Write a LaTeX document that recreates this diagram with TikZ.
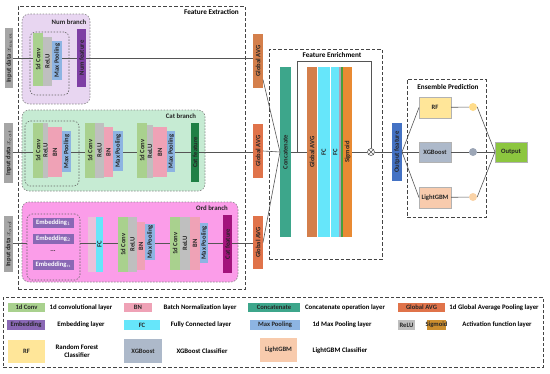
\documentclass[tikz,border=0pt]{standalone}
\usepackage{fontspec}
\setmainfont{Carlito}
\usetikzlibrary{fit}
\definecolor{cconv}{HTML}{A9D18E}
\definecolor{crelu}{HTML}{BFBFBF}
\definecolor{cbn}{HTML}{EFA2B6}
\definecolor{cmp}{HTML}{8DB4E2}
\definecolor{cnumf}{HTML}{7E3FA4}
\definecolor{ccatf}{HTML}{1F7F45}
\definecolor{cordf}{HTML}{A3137C}
\definecolor{cemb}{HTML}{8A68B5}
\definecolor{cfc}{HTML}{66E6FA}
\definecolor{ccon}{HTML}{3DA68B}
\definecolor{cgap}{HTML}{D47F4B}
\definecolor{cgapl}{HTML}{E0734A}
\definecolor{csig}{HTML}{E98A33}
\definecolor{csigl}{HTML}{CC8E2E}
\definecolor{coutf}{HTML}{4472C4}
\definecolor{crf}{HTML}{FFE699}
\definecolor{cxgb}{HTML}{ADB9CA}
\definecolor{clgb}{HTML}{F8CBAD}
\definecolor{cout}{HTML}{8CC63F}
\definecolor{cinp}{HTML}{A6A6A6}
\definecolor{cnumbg}{HTML}{E8D6F1}
\definecolor{ccatbg}{HTML}{C6EBD3}
\definecolor{cordbg}{HTML}{FB9DE9}
\definecolor{cline}{HTML}{555555}
\definecolor{cdash}{HTML}{444444}
\newcommand{\Lbar}[7]{%
  \node[barbox, fill=#2, fit={(#3,#4)(#5,#6)}] (#1) {};
  \node[bartext] at (#1.center) {#7};}
\newcommand{\Hbox}[7]{%
  \node[barbox, fill=#2, fit={(#3,#4)(#5,#6)}] (#1) {};
  \node[boxtext] at (#1.center) {#7};}
\begin{document}
\begin{tikzpicture}[x=1pt,y=-1pt,
  barbox/.style={inner sep=0pt, outer sep=0pt, draw=none, rectangle},
  bartext/.style={rotate=90, inner sep=0pt, font=\fontsize{6.6}{7}\selectfont\bfseries, text=black!85},
  boxtext/.style={inner sep=0pt, font=\fontsize{6.6}{7}\selectfont\bfseries, text=black!85},
  ttl/.style={inner sep=0pt, font=\fontsize{7.2}{8}\selectfont\bfseries},
  legtext/.style={inner sep=0pt, font=\fontsize{6.8}{8}\selectfont\bfseries, align=center},
  bigdash/.style={draw=cdash, line width=0.9pt, dash pattern=on 3.5pt off 2pt, inner sep=0pt},
  branchbox/.style={draw=black!45, line width=0.6pt, dash pattern=on 1.5pt off 1.5pt, rounded corners=7pt, inner sep=0pt},
  innerbox/.style={draw=black!60, line width=0.6pt, dash pattern=on 1.5pt off 1.5pt, rounded corners=5pt, inner sep=0pt},
  conn/.style={draw=cline, line width=0.6pt},
  dot/.style={circle, inner sep=0pt, minimum size=8pt}]
\useasboundingbox (0,0) rectangle (550,373);

% ---------- Feature Extraction ----------
\node[bigdash, fit={(18,6)(245,289)}] (fe) {};
\node[ttl, anchor=east] at (239,12) {Feature Extraction};

% Num branch
\node[branchbox, fill=cnumbg, fit={(22,14)(90,104)}] (numbr) {};
\node[boxtext, font=\fontsize{6.8}{7}\selectfont\bfseries] at (69,22) {Num branch};
\node[innerbox, fit={(30,32)(69,95)}] (numin) {};
\Lbar{inpnum}{cinp}{5}{28}{13}{88}{Input data $x_{num}$}
\Lbar{numconv}{cconv}{33}{33}{43}{86}{1d Conv}
\Lbar{numrelu}{crelu}{43}{37}{52}{86}{ReLU}
\Lbar{nummp}{cmp}{52}{41}{62}{80}{Max Pooling}
\Lbar{numfeat}{cnumf}{77}{29}{86}{87}{Num feature}
\coordinate (ynum) at (0,58);

% Cat branch
\node[branchbox, fill=ccatbg, fit={(22,110)(205,191)}] (catbr) {};
\node[boxtext, font=\fontsize{6.8}{7}\selectfont\bfseries] at (181,116) {Cat branch};
\node[innerbox, fit={(25,121)(79,186)}] (catin) {};
\Lbar{inpcat}{cinp}{4}{123}{13}{183}{Input data $x_{cat}$}
\Lbar{cconvA}{cconv}{33}{123}{43}{178}{1d Conv}
\Lbar{creluA}{crelu}{43}{123}{48}{178}{ReLU}
\Lbar{cbnA}{cbn}{48}{127}{62}{177}{BN}
\Lbar{cmpA}{cmp}{62}{131}{71}{172}{Max Pooling}
\Lbar{cconvB}{cconv}{85}{123}{95}{178}{1d Conv}
\Lbar{creluB}{crelu}{95}{123}{104}{178}{ReLU}
\Lbar{cbnB}{cbn}{104}{127}{113}{177}{BN}
\Lbar{cmpB}{cmp}{113}{131}{123}{171}{Max Pooling}
\Lbar{cconvC}{cconv}{137}{123}{147}{178}{1d Conv}
\Lbar{creluC}{crelu}{147}{125}{153}{178}{ReLU}
\Lbar{cbnC}{cbn}{153}{127}{167}{177}{BN}
\Lbar{cmpC}{cmp}{167}{131}{175}{172}{Max Pooling}
\Lbar{catfeat}{ccatf}{191}{123}{199}{182}{Cat feature}
\coordinate (ycat) at (0,152);

% Ord branch
\node[branchbox, fill=cordbg, fit={(22,202)(238,282)}] (ordbr) {};
\node[boxtext, font=\fontsize{6.8}{7}\selectfont\bfseries] at (212,208) {Ord branch};
\node[innerbox, fit={(27,214)(80,280)}] (ordin) {};
\Lbar{inpord}{cinp}{4}{216}{13}{272}{Input data $x_{ord}$}
\node[barbox, fill=cemb, fit={(33,218)(74,228)}] (emb1) {};
\node[boxtext, text=white] at (emb1.center) {Embedding$_1$};
\node[barbox, fill=cemb, fit={(33,234)(74,244)}] (emb2) {};
\node[boxtext, text=white] at (emb2.center) {Embedding$_2$};
\node[boxtext] at (53,251) {...};
\node[barbox, fill=cemb, fit={(33,260)(74,270)}] (embn) {};
\node[boxtext, text=white] at (embn.center) {Embedding$_n$};
\fill[cbn!40!cnumbg] (88,217) rectangle (96,272);
\Lbar{ofc}{cfc}{96}{217}{103}{272}{FC}
\Lbar{oconvA}{cconv}{118}{217}{128}{272}{1d Conv}
\Lbar{oreluA}{crelu}{128}{217}{137}{272}{ReLU}
\Lbar{obnA}{cbn}{137}{222}{145}{270}{BN}
\Lbar{ompA}{cmp}{145}{224}{155}{260}{Max Pooling}
\Lbar{oconvB}{cconv}{170}{217}{180}{270}{1d Conv}
\Lbar{oreluB}{crelu}{180}{217}{190}{270}{ReLU}
\Lbar{obnB}{cbn}{190}{217}{200}{270}{BN}
\Lbar{ompB}{cmp}{200}{223}{208}{263}{Max Pooling}
\Lbar{ordfeat}{cordf}{223}{215}{232}{273}{Cat feature}
\coordinate (yord) at (0,243);

% Global AVG columns
\Lbar{gap1}{cgap}{253}{34}{263}{88}{Global AVG}
\Lbar{gap2}{cgapl}{253}{124}{263}{178}{Global AVG}
\Lbar{gap3}{cgapl}{253}{216}{263}{269}{Global AVG}

% branch connectors
\draw[conn] (ynum -| inpnum.east) -- (ynum -| numconv.west);
\draw[conn] (ynum -| nummp.east) -- (ynum -| numfeat.west);
\draw[conn] (ynum -| numfeat.east) -- (ynum -| gap1.west);
\draw[conn] (ycat -| inpcat.east) -- (ycat -| cconvA.west);
\draw[conn] (ycat -| cmpA.east) -- (ycat -| cconvB.west);
\draw[conn] (ycat -| cmpB.east) -- (ycat -| cconvC.west);
\draw[conn] (ycat -| cmpC.east) -- (ycat -| catfeat.west);
\draw[conn] (ycat -| catfeat.east) -- (ycat -| gap2.west);
\draw[conn] (yord -| inpord.east) -- (yord -| ordin.west);
\draw[conn] (yord -| ordin.east) -- (yord -| ofc.west);
\draw[conn] (yord -| ofc.east) -- (yord -| oconvA.west);
\draw[conn] (yord -| ompA.east) -- (yord -| oconvB.west);
\draw[conn] (yord -| ompB.east) -- (yord -| ordfeat.west);
\draw[conn] (yord -| ordfeat.east) -- (yord -| gap3.west);

% ---------- Feature Enrichment ----------
\node[bigdash, fit={(269,49)(382,259)}] (fen) {};
\node[ttl] at (332,55) {Feature Enrichment};
\Lbar{concat}{ccon}{280}{67}{291}{237}{Concatenate}
\Lbar{fegap}{cgap}{307}{67}{317}{237}{Global AVG}
\Lbar{fcA}{cfc}{318}{67}{329.5}{237}{FC}
\Lbar{fcB}{cfc}{330.5}{67}{340}{237}{FC}
\fill[black!25!cnumbg] (339,67) rectangle (341,237);
\fill[cconv!60!green!70!black] (341,67) rectangle (343,237);
\Lbar{sig}{csig}{343}{67}{352}{237}{Sigmoid}
\node[circle, draw=cline, fill=white, line width=0.6pt, minimum size=7pt, inner sep=0pt] (mul) at (371,152) {};
\draw[cline, line width=0.6pt] (mul.45) -- (mul.225) (mul.135) -- (mul.315);
\coordinate (byp) at (297,152);
\coordinate (bypt) at (297,61);
\draw[conn] (gap1.-75) -- (concat.west);
\draw[conn] (gap2.east) -- (concat.west);
\draw[conn] (gap3.east) -- (concat.west);
\draw[conn] (concat.east) -- (fegap.west);
\draw[conn] (byp) -- (bypt) -| (mul.north);
\draw[conn] (sig.east) -- (mul.west);

% Output feature
\Lbar{outf}{coutf}{392}{123}{402}{181}{Output feature}
\draw[conn] (mul.east) -- (outf.west);

% ---------- Ensemble Prediction ----------
\node[bigdash, fit={(407,79)(486,217)}] (ens) {};
\node[ttl] at (448,87) {Ensemble Prediction};
\node[barbox, fill=crf, draw=black!30, fit={(419,97)(451,118)}] (rf) {};
\node[boxtext] at (rf.center) {RF};
\node[barbox, fill=cxgb, draw=black!30, fit={(419,142)(451,162)}] (xgb) {};
\node[boxtext] at (xgb.center) {XGBoost};
\node[barbox, fill=clgb, draw=black!30, fit={(419,187)(451,208)}] (lgb) {};
\node[boxtext] at (lgb.center) {LightGBM};
\node[dot, fill=crf!90!orange] (d1) at (473,107) {};
\node[dot, fill=cxgb!90!black] (d2) at (473,152) {};
\node[dot, fill=clgb!70!crf] (d3) at (473,197) {};
\node[barbox, fill=cout, draw=black!30, fit={(495,142)(527,162)}] (out) {};
\node[boxtext] at (out.center) {Output};
\foreach \m in {rf,xgb,lgb} \draw[conn] (outf.east) -- (\m.west);
\draw[conn] (rf) -- (d1);
\draw[conn] (xgb) -- (d2);
\draw[conn] (lgb) -- (d3);
\foreach \d in {d1,d2,d3} \draw[conn] (\d.east) -- (out.west);

% ---------- Legend ----------
\node[bigdash, fit={(3,297)(543,367)}] (leg) {};
\Hbox{lconv}{cconv}{8}{303}{45}{312}{1d Conv}
\node[legtext] at (81,307.5) {1d convolutional layer};
\Hbox{lbn}{cbn}{124}{303}{152}{312}{BN}
\node[legtext] at (200,307.5) {Batch Normalization layer};
\Hbox{lcon}{ccon}{248}{303}{300}{312}{Concatenate}
\node[legtext] at (345,307.5) {Concatenate operation layer};
\Hbox{lgap}{cgapl}{398}{303}{445}{312}{Global AVG}
\node[legtext] at (494,307.5) {1d Global Average Pooling layer};
\Hbox{lemb}{cemb}{7}{320}{45}{330}{Embedding}
\node[legtext] at (81,325) {Embedding layer};
\Hbox{lfc}{cfc}{124}{320}{160}{330}{FC}
\node[legtext] at (201,325) {Fully Connected layer};
\Hbox{lmp}{cmp}{250}{320}{300}{330}{Max Pooling}
\node[legtext] at (342,325) {1d Max Pooling layer};
\Hbox{lrelu}{crelu}{398}{320}{415}{330}{ReLU}
\Hbox{lsig}{csigl}{427}{320}{446}{330}{Sigmoid}
\node[legtext] at (497,325) {Activation function layer};
\Hbox{lrf}{crf}{8}{340}{45}{363}{RF}
\node[legtext] at (77,351) {Random Forest\\Classifier};
\Hbox{lxgb}{cxgb}{124}{339}{162}{363}{XGBoost}
\node[legtext] at (202,351) {XGBoost Classifier};
\Hbox{llgb}{clgb}{260}{338}{297}{362}{LightGBM}
\node[legtext] at (340,351) {LightGBM Classifier};
\end{tikzpicture}
\end{document}
